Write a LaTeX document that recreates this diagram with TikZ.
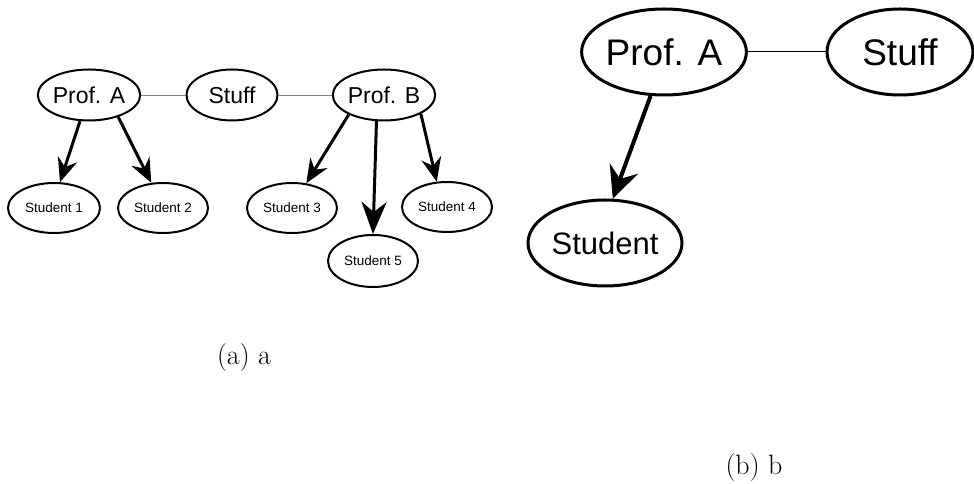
\documentclass[tikz,border=0pt]{standalone}
\usepackage{fontspec}
\newfontfamily\arialf{Liberation Sans}
\usetikzlibrary{shapes.geometric,arrows.meta}
\tikzset{
  sm/.style={ellipse,draw=black,line width=2pt,inner sep=0pt,font=\arialf\fontsize{13.5}{16}\selectfont,minimum width=90pt,minimum height=50pt},
  md/.style={ellipse,draw=black,line width=2pt,inner sep=0pt,font=\arialf\fontsize{23}{27}\selectfont,minimum width=90pt,minimum height=51pt},
  lg/.style={ellipse,draw=black,line width=3pt,inner sep=0pt,font=\arialf\fontsize{37}{44}\selectfont,minimum width=152pt,minimum height=86pt},
  lgs/.style={lg,font=\arialf\fontsize{31}{37}\selectfont,minimum width=154pt},
  arr/.style={line width=3pt,-{Stealth[length=24pt,width=20pt,inset=8pt]}},
  arrbig/.style={line width=3pt,-{Stealth[length=32pt,width=25pt,inset=10pt]}},
  arrr/.style={line width=4pt,-{Stealth[length=32pt,width=30pt,inset=11pt]}},
  thinl/.style={draw=gray,line width=0.8pt},
  thinr/.style={draw=black,line width=1pt},
  captext/.style={font=\fontsize{28}{34}\selectfont,anchor=base,inner sep=0pt}
}
\begin{document}
\begin{tikzpicture}[x=1pt,y=1pt]
\useasboundingbox (0,0) rectangle (974,484);
% left figure
\node[md,minimum width=88pt] (pA) at (89,389) {Prof. A};
\node[md,minimum width=91pt] (st) at (232,389) {Stuff};
\node[md,minimum width=92pt] (pB) at (384,389) {Prof. B};
\node[sm,minimum width=92pt] (s1) at (54,276) {Student 1};
\node[sm] (s2) at (163,276) {Student 2};
\node[sm] (s3) at (292,276) {Student 3};
\node[sm] (s4) at (447,277) {Student 4};
\node[sm,minimum height=52pt] (s5) at (373,223) {Student 5};
\draw[thinl] (pA) -- (st);
\draw[thinl] (st) -- (pB);
\draw[arr] (pA.251) -- (s1.77);
\draw[arr] (pA.-37) -- (s2.115);
\draw[arr] (pB.209) -- (s3.60);
\draw[arrbig] (pB.254) -- (s5.90);
\draw[arr] (pB.-27) -- (s4.112);
\node[captext] (ca) at (244,119) {(a) a};
% right figure
\node[lg] (rA) at (664,432) {Prof. A};
\node[lg,minimum width=146pt] (rS) at (900,432) {Stuff};
\node[lgs] (rSt) at (605,241) {Student};
\draw[thinr] (rA) -- (rS);
\draw[arrr] (rA.253) -- (rSt.80);
\node[captext] (cb) at (754,9) {(b) b};
\end{tikzpicture}
\end{document}
